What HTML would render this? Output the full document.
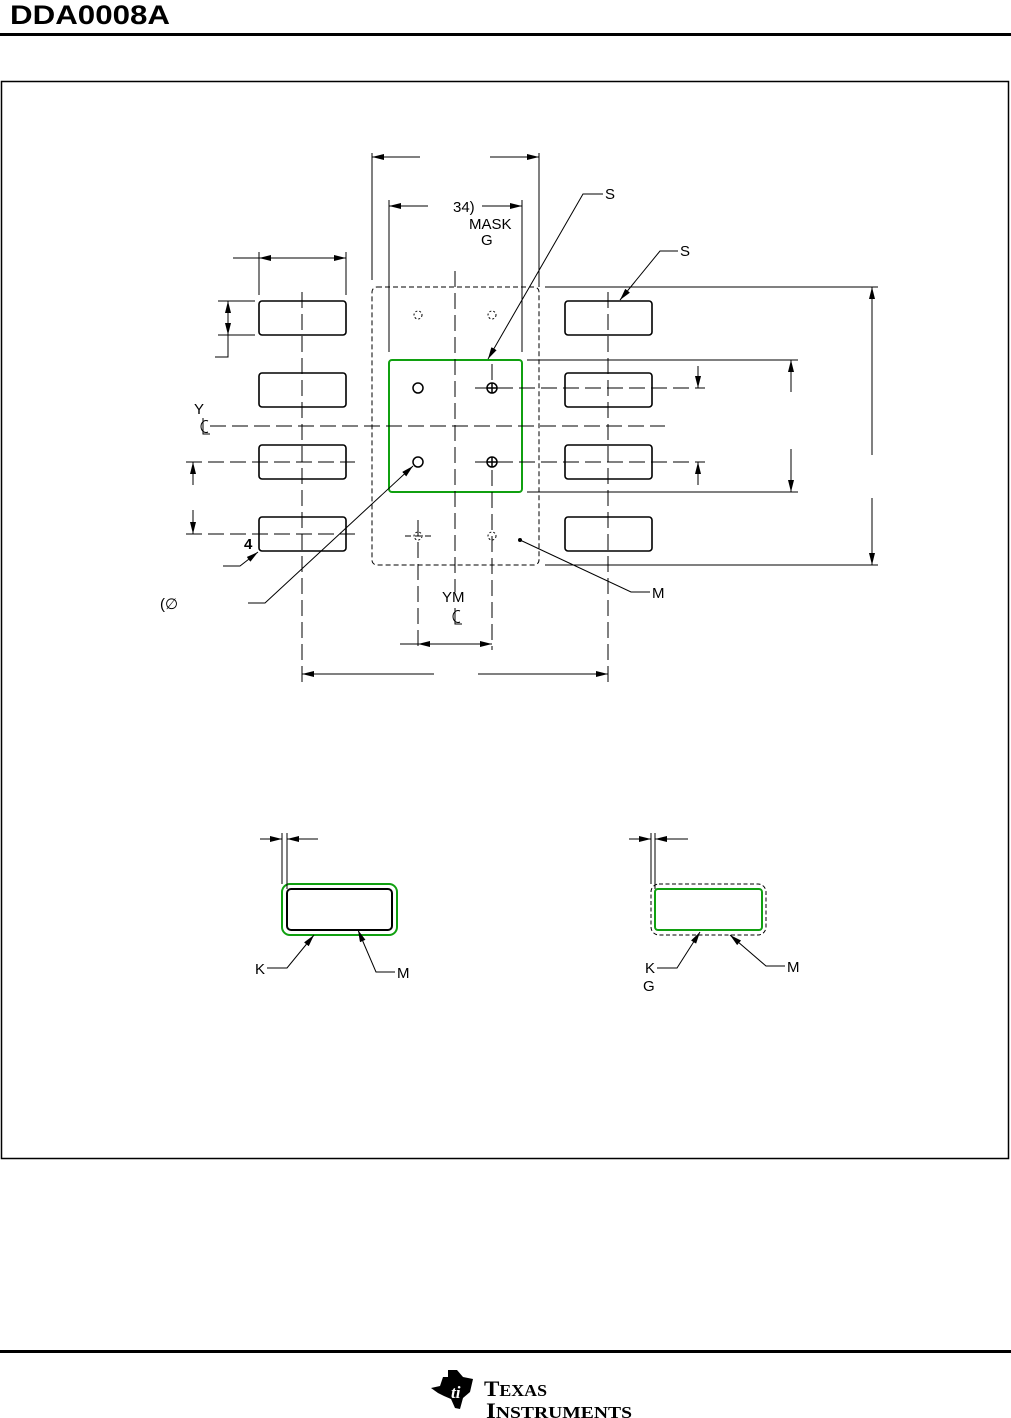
<!DOCTYPE html>
<html><head><meta charset="utf-8"><style>
html,body{margin:0;padding:0;background:#fff}
svg{display:block}
text{font-family:"Liberation Sans",Arial,sans-serif;font-size:15px;fill:#000}
</style></head><body>
<svg width="1011" height="1418" viewBox="0 0 1011 1418" xmlns="http://www.w3.org/2000/svg">
<defs>
<marker id="a" viewBox="0 0 12 6" refX="12" refY="3" markerWidth="12" markerHeight="6" markerUnits="userSpaceOnUse" orient="auto"><path d="M0,0L12,3L0,6z" fill="#000"/></marker>
</defs>
<text x="10" y="24" style="font-size:27px;font-weight:bold" textLength="160" lengthAdjust="spacingAndGlyphs">DDA0008A</text>
<rect x="0" y="33" width="1011" height="3" fill="#000"/>
<rect x="1.5" y="81.5" width="1007" height="1077" fill="none" stroke="#000" stroke-width="1.5"/>
<rect x="0" y="1350" width="1011" height="3" fill="#000"/>

<g fill="none" stroke="#000">
<g stroke-width="1.6">
<rect x="259" y="301" width="87" height="34" rx="3"/>
<rect x="259" y="373" width="87" height="34" rx="3"/>
<rect x="259" y="445" width="87" height="34" rx="3"/>
<rect x="259" y="517" width="87" height="34" rx="3"/>
<rect x="565" y="301" width="87" height="34" rx="3"/>
<rect x="565" y="373" width="87" height="34" rx="3"/>
<rect x="565" y="445" width="87" height="34" rx="3"/>
<rect x="565" y="517" width="87" height="34" rx="3"/>
</g>
<rect x="372" y="287" width="167" height="278" rx="5" stroke-dasharray="5,3"/>
<rect x="389" y="360" width="133" height="132" rx="3" stroke="#10a010" stroke-width="2"/>
<g stroke-dasharray="16,6">
<line x1="302" y1="292" x2="302" y2="682"/>
<line x1="608" y1="292" x2="608" y2="682"/>
<line x1="455" y1="271" x2="455" y2="592"/>
<line x1="210" y1="426" x2="665" y2="426"/>
<line x1="186" y1="462" x2="355" y2="462"/>
<line x1="186" y1="534" x2="355" y2="534"/>
<line x1="475" y1="388" x2="705" y2="388"/>
<line x1="475" y1="462" x2="705" y2="462"/>
<line x1="418" y1="520" x2="418" y2="650"/>
<line x1="492" y1="470" x2="492" y2="650"/>
<line x1="492" y1="380" x2="492" y2="362"/>
<line x1="405" y1="536" x2="432" y2="536" stroke-dasharray="6,4"/>
</g>
<g stroke-width="1.5">
<circle cx="418" cy="388" r="5"/><circle cx="418" cy="462" r="5"/>
<circle cx="492" cy="388" r="5"/><circle cx="492" cy="462" r="5"/>
<path d="M487,388h10M492,383v10M487,462h10M492,457v10"/>
</g>
<g stroke-dasharray="2,2">
<circle cx="418" cy="315" r="4"/><circle cx="492" cy="315" r="4"/>
<circle cx="418" cy="536" r="4"/><circle cx="492" cy="536" r="4"/>
</g>
<line x1="372" y1="153" x2="372" y2="280"/>
<line x1="539" y1="153" x2="539" y2="287"/>
<line x1="420" y1="157" x2="372" y2="157" marker-end="url(#a)"/>
<line x1="490" y1="157" x2="539" y2="157" marker-end="url(#a)"/>
<line x1="389" y1="200" x2="389" y2="352"/>
<line x1="522" y1="200" x2="522" y2="352"/>
<line x1="428" y1="206" x2="389" y2="206" marker-end="url(#a)"/>
<line x1="482" y1="206" x2="522" y2="206" marker-end="url(#a)"/>
<line x1="259" y1="252" x2="259" y2="295"/>
<line x1="346" y1="252" x2="346" y2="295"/>
<line x1="233" y1="258" x2="259" y2="258"/>
<line x1="300" y1="258" x2="259" y2="258" marker-end="url(#a)"/>
<line x1="300" y1="258" x2="346" y2="258" marker-end="url(#a)"/>
<line x1="218" y1="301" x2="255" y2="301"/>
<line x1="218" y1="335" x2="255" y2="335"/>
<line x1="228" y1="318" x2="228" y2="301" marker-end="url(#a)"/>
<line x1="228" y1="318" x2="228" y2="335" marker-end="url(#a)"/>
<polyline points="228,335 228,357 215,357"/>
<line x1="193" y1="485" x2="193" y2="462" marker-end="url(#a)"/>
<line x1="193" y1="510" x2="193" y2="534" marker-end="url(#a)"/>
<line x1="400" y1="644" x2="418" y2="644"/>
<line x1="455" y1="644" x2="418" y2="644" marker-end="url(#a)"/>
<line x1="455" y1="644" x2="492" y2="644" marker-end="url(#a)"/>
<line x1="434" y1="674" x2="302" y2="674" marker-end="url(#a)"/>
<line x1="478" y1="674" x2="608" y2="674" marker-end="url(#a)"/>
<line x1="545" y1="287" x2="878" y2="287"/>
<line x1="545" y1="565" x2="878" y2="565"/>
<line x1="872" y1="455" x2="872" y2="287" marker-end="url(#a)"/>
<line x1="872" y1="498" x2="872" y2="565" marker-end="url(#a)"/>
<line x1="527" y1="360" x2="798" y2="360"/>
<line x1="527" y1="492" x2="798" y2="492"/>
<line x1="791" y1="392" x2="791" y2="360" marker-end="url(#a)"/>
<line x1="791" y1="449" x2="791" y2="492" marker-end="url(#a)"/>
<line x1="698" y1="366" x2="698" y2="388" marker-end="url(#a)"/>
<line x1="698" y1="485" x2="698" y2="462" marker-end="url(#a)"/>
<polyline points="603,194 583,194 488,359" marker-end="url(#a)"/>
<polyline points="678,251 660,251 620,300" marker-end="url(#a)"/>
<polyline points="650,592 631,592 520,540"/>
<polyline points="223,566 240,566 258,552" marker-end="url(#a)"/>
<polyline points="248,603 265,603 413,466" marker-end="url(#a)"/>
<path d="M208,421a5,6 0 1 0 0,11M203,418v16h7"/>
<path d="M460,611a5,6 0 1 0 0,11M455,608v16h7"/>

<rect x="282" y="884" width="115" height="51" rx="8" stroke="#10a010" stroke-width="2"/>
<rect x="287" y="889" width="105" height="41" rx="4" stroke-width="2"/>
<line x1="282" y1="833" x2="282" y2="884"/><line x1="287" y1="833" x2="287" y2="889"/>
<line x1="260" y1="839" x2="282" y2="839" marker-end="url(#a)"/>
<line x1="318" y1="839" x2="287" y2="839" marker-end="url(#a)"/>
<polyline points="267,968 287,968 314,935" marker-end="url(#a)"/>
<polyline points="395,972 376,972 358,930" marker-end="url(#a)"/>

<rect x="651" y="884" width="115" height="51" rx="8" stroke-dasharray="4,2.5"/>
<rect x="655" y="889" width="107" height="41" rx="3" stroke="#10a010" stroke-width="2"/>
<line x1="651" y1="833" x2="651" y2="884"/><line x1="655" y1="833" x2="655" y2="889"/>
<line x1="629" y1="839" x2="651" y2="839" marker-end="url(#a)"/>
<line x1="688" y1="839" x2="655" y2="839" marker-end="url(#a)"/>
<polyline points="657,968 677,968 700,932" marker-end="url(#a)"/>
<polyline points="785,966 766,966 730,935" marker-end="url(#a)"/>
</g>
<circle cx="520" cy="540" r="2" fill="#000"/>

<text x="453" y="212">34)</text>
<text x="469" y="229">MASK</text>
<text x="481" y="245">G</text>
<text x="605" y="199">S</text>
<text x="680" y="256">S</text>
<text x="652" y="598">M</text>
<text x="194" y="414">Y</text>
<text x="244" y="549" style="font-weight:bold">4</text>
<text x="160" y="609">(∅</text>
<text x="442" y="602">YM</text>
<text x="255" y="974">K</text>
<text x="397" y="978">M</text>
<text x="645" y="973">K</text>
<text x="643" y="991">G</text>
<text x="787" y="972">M</text>

<path d="M431,1388 l9,-2 l3,-9 l5,0 l0,-7 l9,0 l6,7 l10,2 l-3,13 l-7,6 l-3,11 l-5,-1 l-4,-9 l-7,-3 l-6,-3 z" fill="#000"/>
<text x="451" y="1398" style="font-family:'Liberation Serif',serif;font-style:italic;font-weight:bold;font-size:17px;fill:#fff">ti</text>
<text x="484" y="1396" style="font-family:'Liberation Serif',serif;font-weight:bold;font-size:22px" textLength="63" lengthAdjust="spacingAndGlyphs">T<tspan style="font-size:17px">EXAS</tspan></text>
<text x="486" y="1418" style="font-family:'Liberation Serif',serif;font-weight:bold;font-size:22px" textLength="146" lengthAdjust="spacingAndGlyphs">I<tspan style="font-size:17px">NSTRUMENTS</tspan></text>
</svg>
</body></html>
